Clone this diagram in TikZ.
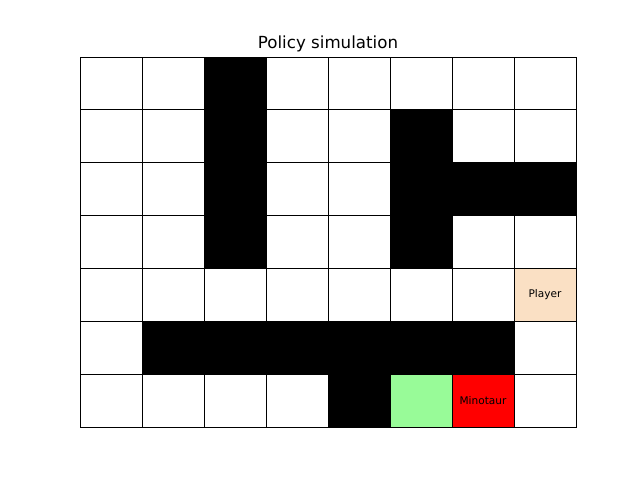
\documentclass[tikz,border=0pt]{standalone}
\usepackage{fontspec}
\setmainfont{DejaVu Sans}
\usepackage{tikz}
\definecolor{Bisque}{RGB}{250,224,196}
\definecolor{PaleGreen}{RGB}{152,251,152}

\begin{document}
\begin{tikzpicture}[
    x=0.025cm, y=-0.025cm,
    cell/.style={
      draw,
      line width=0.7pt,
      minimum width=1.55cm,
      minimum height=1.3214cm,
      inner sep=0pt,
      outer sep=0pt,
      font=\fontsize{7.5}{9}\selectfont
    },
    free/.style={cell, fill=white},
    wall/.style={cell, fill=black},
    player/.style={cell, fill=Bisque, execute at begin node={Player}},
    exit/.style={cell, fill=PaleGreen},
    minotaur/.style={cell, fill=red, execute at begin node={Minotaur}}
  ]
    \useasboundingbox (0,0) rectangle (640,480);
    \node[font=\fontsize{11.85}{14}\selectfont] (title) at (328,44) {Policy simulation};

    % maze grid, row by row from the top
    \foreach \row [count=\r from 0] in {
        {free,free,wall,free,free,free,free,free},
        {free,free,wall,free,free,wall,free,free},
        {free,free,wall,free,free,wall,wall,wall},
        {free,free,wall,free,free,wall,free,free},
        {free,free,free,free,free,free,free,player},
        {free,wall,wall,wall,wall,wall,wall,free},
        {free,free,free,free,wall,exit,minotaur,free}} {
      \foreach \kind [count=\c from 0] in \row {
        \node[\kind] (c\r-\c) at ({111+62*\c},{83.43+52.857*\r}) {};
      }
    }
  \end{tikzpicture}
\end{document}
